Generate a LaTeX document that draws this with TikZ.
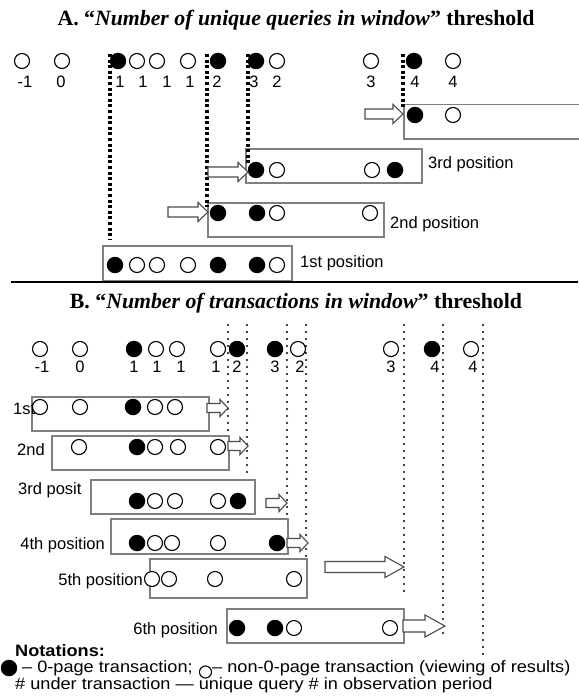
\documentclass[tikz,border=0pt]{standalone}
\usepackage{graphicx}
\usepackage{fontspec}
\setmainfont{Liberation Serif}
\newfontfamily\arialfont{Liberation Sans}
\usetikzlibrary{positioning}
% block arrow: tail x, tip x, y, head length, shaft half, head half
\newcommand{\barrow}[6]{%
  \draw[arr] (#1,#3-#5) -- (#2-#4,#3-#5) -- (#2-#4,#3-#6) -- (#2,#3)
    -- (#2-#4,#3+#6) -- (#2-#4,#3+#5) -- (#1,#3+#5) -- cycle;}
% legend text, a little wider than high
\newcommand{\legtext}[1]{\scalebox{1.1}[1]{#1}}

\tikzset{
  wc/.style={circle, draw, line width=1.1pt, fill=white, minimum size=15pt, inner sep=0pt},
  bc/.style={circle, fill=black, minimum size=16.5pt, inner sep=0pt},
  win/.style={draw=black!50, line width=1.5pt, anchor=north west, minimum height=34pt, inner sep=0pt},
  dotA/.style={line width=3.2pt, dash pattern=on 3pt off 2.6pt},
  dotB/.style={line width=2.4pt, line cap=round, dash pattern=on 0pt off 7pt},
  lab/.style={font=\arialfont\fontsize{16.5}{18}\selectfont, inner sep=0pt},
  leg/.style={font=\arialfont\fontsize{16.5}{16}\selectfont, inner sep=0pt},
  ttl/.style={font=\bfseries\fontsize{21.8}{24}\selectfont},
  arr/.style={draw=black!70, fill=white, line width=1.1pt},
}

\begin{document}
\begin{tikzpicture}[x=1pt, y=-1pt]
  \useasboundingbox (0,0) rectangle (578,698);

  % Titles
  \node[ttl] (titA) at (296,20) {A. “\textit{Number of unique queries in window}” threshold};
  \node[ttl] (titB) at (296,303) {B. “\textit{Number of transactions in window}” threshold};

  % ---------- Part A ----------
  % windows
  \node[win, minimum width=192pt] (wa4) at (403,104) {};
  \node[win, minimum width=176pt] (wa3) at (245,148) {};
  \node[win, minimum width=176pt] (wa2) at (207,202) {};
  \node[win, minimum width=189pt, minimum height=35pt] (wa1) at (102,245) {};

  % window labels
  \node[lab, anchor=base west] (la3) at (428,168) {3rd position};
  \node[lab, anchor=base west] (la2) at (390,228) {2nd position};
  \node[lab, anchor=base west] (la1) at (300,267) {1st position};

  % transactions and query numbers
  \foreach \x/\s [count=\i] in {22/wc,62/wc,118/bc,137/wc,157/wc,188/wc,218/bc,256/bc,277/wc,371/wc,414/bc,453/wc}
    \node[\s] (qa\i) at (\x,61) {};
  \foreach \x/\n [count=\i] in {25/-1,61/0,120/1,143/1,167/1,190/1,217/2,254/3,277/2,371/3,415/4,453/4}
    \node[lab] (na\i) at (\x,82) {\n};

  \foreach \x/\s [count=\i] in {415/bc,453/wc}
    \node[\s] (pa4\i) at (\x,115) {};
  \foreach \x/\s [count=\i] in {256/bc,277/wc,372/wc,395/bc}
    \node[\s] (pa3\i) at (\x,170) {};
  \foreach \x/\s [count=\i] in {218/bc,257/bc,277/wc,370/wc}
    \node[\s] (pa2\i) at (\x,213) {};
  \foreach \x/\s [count=\i] in {115/bc,137/wc,157/wc,188/wc,218/bc,257/bc,277/wc}
    \node[\s] (pa1\i) at (\x,265) {};

  % thresholds
  \foreach \x/\b [count=\i] in {110/240,207/207,248/163,403/108} {
    \coordinate (ta\i) at (\x,54);
    \coordinate (ba\i) at (\x,\b);
    \draw[dotA] (ta\i) -- (ba\i);
  }

  % shifts
  \barrow{365}{403}{114}{10}{5}{9.5}
  \barrow{208}{248}{172}{10}{5}{9.5}
  \barrow{168}{208}{212}{10}{5}{9.5}

  % separator
  \coordinate (sepL) at (11,282);
  \coordinate (sepR) at (578,282);
  \draw[line width=1.8pt] (sepL) -- (sepR);

  % ---------- Part B ----------
  \node[win, minimum width=177pt] (wb1) at (31,396) {};
  \node[win, minimum width=177pt] (wb2) at (51,435) {};
  \node[win, minimum width=164pt] (wb3) at (90,479) {};
  \node[win, minimum width=177pt, minimum height=35pt] (wb4) at (110,518) {};
  \node[win, minimum width=157pt, minimum height=39pt] (wb5) at (149,558) {};
  \node[win, minimum width=177pt] (wb6) at (226,608) {};

  \node[lab, anchor=base west] (lb1) at (13,414) {1st};
  \node[lab, anchor=base west] (lb2) at (17,455) {2nd};
  \node[lab, anchor=base west] (lb3) at (18,494) {3rd posit};
  \node[lab, anchor=base east] (lb4) at (105,549) {4th position};
  \node[lab, anchor=base east] (lb5) at (143,585) {5th position};
  \node[lab, anchor=base east] (lb6) at (218,634) {6th position};

  \foreach \x/\s [count=\i] in {40/wc,80/wc,134/bc,156/wc,177/wc,218/wc,237/bc,275/bc,298/wc,391/wc,432/bc,471/wc}
    \node[\s] (qb\i) at (\x,349) {};
  \foreach \x/\n [count=\i] in {42/-1,80/0,134/1,157/1,181/1,216/1,237/2,275/3,300/2,391/3,435/4,473/4}
    \node[lab] (nb\i) at (\x,367) {\n};

  \foreach \x/\s [count=\i] in {40/wc,80/wc,133/bc,155/wc,175/wc}
    \node[\s] (pb1\i) at (\x,407) {};
  \foreach \x/\s [count=\i] in {79/wc,137/bc,155/wc,178/wc,218/wc}
    \node[\s] (pb2\i) at (\x,447) {};
  \foreach \x/\s [count=\i] in {137/bc,155/wc,175/wc,218/wc,238/bc}
    \node[\s] (pb3\i) at (\x,501) {};
  \foreach \x/\s [count=\i] in {137/bc,155/wc,172/wc,218/wc,277/bc}
    \node[\s] (pb4\i) at (\x,543) {};
  \foreach \x/\s [count=\i] in {152/wc,169/wc,215/wc,294/wc}
    \node[\s] (pb5\i) at (\x,579) {};
  \foreach \x/\s [count=\i] in {237/bc,275/bc,294/wc,390/wc}
    \node[\s] (pb6\i) at (\x,628) {};

  \foreach \x/\b [count=\i] in {228/437,247/475,287/518,306/558,404/597,443/637,483/657} {
    \coordinate (tb\i) at (\x,325);
    \coordinate (bb\i) at (\x,\b);
    \draw[dotB] (tb\i) -- (bb\i);
  }

  \barrow{207}{228}{408}{8}{4.5}{8.5}
  \barrow{228}{248}{446}{8}{4.5}{8.5}
  \barrow{266}{287}{503}{8}{4.5}{8.5}
  \barrow{287}{308}{543}{8}{4.5}{8.5}
  \barrow{325}{404}{567}{19}{5.5}{10.5}
  \barrow{403}{445}{626}{20}{6}{11}

  % Notations
  \node[leg, anchor=base west] (ntt) at (15,656) {\legtext{\bfseries Notations:}};
  \node[bc] (lgb) at (9,668) {};
  \node[leg, anchor=west] (lg1) at (22,668) {\legtext{– 0-page transaction;}};
  \node[wc, minimum size=12pt, right=6pt of lg1, yshift=-4pt] (lgw) {};
  \node[leg, right=0pt of lgw, yshift=4pt] (lg2) {\legtext{– non-0-page transaction (viewing of results)}};
  \node[leg, anchor=west] (lg3) at (15,685) {\legtext{\# under transaction — unique query \# in observation period}};
\end{tikzpicture}
\end{document}
